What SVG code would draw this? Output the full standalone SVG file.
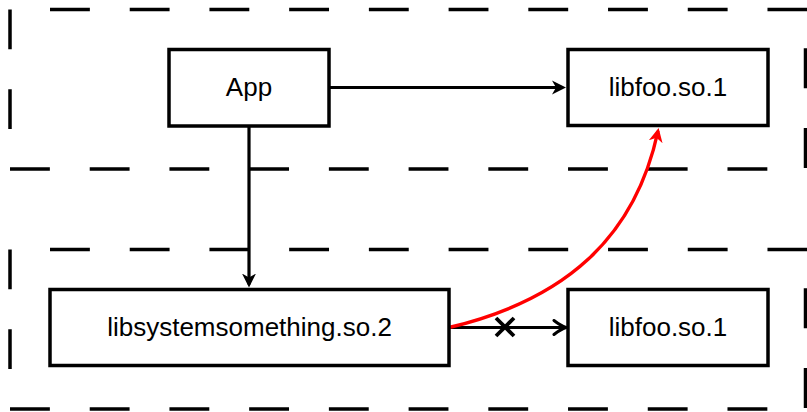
<svg xmlns="http://www.w3.org/2000/svg" width="807" height="412" viewBox="0 0 807 412">
<style>
.dash{stroke:#000;stroke-width:3.5;stroke-dasharray:39.86 39.86;fill:none}
.box{fill:#fff;stroke:#000;stroke-width:3.5}
.lbl{font-family:"Liberation Sans",Arial,sans-serif;font-size:26px;fill:#000;text-anchor:middle}
.edge{stroke:#000;stroke-width:3.2;fill:none}
.red{stroke:#f00;stroke-width:3.4;fill:none}
</style>
<defs>
<marker id="stealth" markerUnits="userSpaceOnUse" viewBox="-14 -8 16 16" markerWidth="16" markerHeight="16" refX="-3" refY="0" orient="auto">
<path d="M0,0 L-14,-7 L-10,0 L-14,7 Z" fill="#000"/>
</marker>
<marker id="stealthRed" markerUnits="userSpaceOnUse" viewBox="-14 -8 16 16" markerWidth="16" markerHeight="16" refX="-3" refY="0" orient="auto">
<path d="M0,0 L-14,-7 L-10,0 L-14,7 Z" fill="#f00"/>
</marker>
<marker id="open" markerUnits="userSpaceOnUse" viewBox="-16 -9 18 18" markerWidth="18" markerHeight="18" refX="0" refY="0" orient="auto">
<path d="M-12,-7 Q-5,-1.5 0,0 Q-5,1.5 -12,7" fill="none" stroke="#000" stroke-width="3" stroke-linecap="round"/>
</marker>
</defs>

<g id="regions">
<g id="region-top">
<line class="dash" x1="50" y1="9.5" x2="807" y2="9.5"/>
<line class="dash" x1="10" y1="9.5" x2="10" y2="169"/>
<line class="dash" x1="10" y1="169" x2="807" y2="169"/>
<line class="dash" x1="805.5" y1="48.3" x2="805.5" y2="169"/>
</g>
<g id="region-bottom">
<line class="dash" x1="50" y1="249.5" x2="807" y2="249.5"/>
<line class="dash" x1="10" y1="249.5" x2="10" y2="409"/>
<line class="dash" x1="10" y1="409" x2="807" y2="409"/>
<line class="dash" x1="805.5" y1="288.3" x2="805.5" y2="409"/>
</g>
</g>

<g id="connectors">
<line class="edge" x1="329" y1="87.5" x2="563" y2="87.5" marker-end="url(#stealth)"/>
<line class="edge" x1="249" y1="126" x2="249" y2="284.5" marker-end="url(#stealth)"/>
<line class="edge" x1="449" y1="327.5" x2="566" y2="327.5" marker-end="url(#open)"/>
<g id="cross" stroke="#000" stroke-width="3.8">
<line x1="496" y1="318" x2="514" y2="336"/>
<line x1="514" y1="318" x2="496" y2="336"/>
</g>
<path class="red" d="M449,327.5 C565,300 635,238 658,131" marker-end="url(#stealthRed)"/>
</g>

<g id="node-app">
<rect class="box" x="169" y="49.5" width="160" height="76.5"/>
<text class="lbl" x="249" y="95.5">App</text>
</g>
<g id="node-libfoo-top">
<rect class="box" x="568" y="49.5" width="200" height="76"/>
<text class="lbl" x="668" y="95.5">libfoo.so.1</text>
</g>
<g id="node-libsys">
<rect class="box" x="50" y="289.5" width="399" height="76"/>
<text class="lbl" x="249.5" y="335.5">libsystemsomething.so.2</text>
</g>
<g id="node-libfoo-bottom">
<rect class="box" x="568" y="289.5" width="200" height="76"/>
<text class="lbl" x="668" y="335.5">libfoo.so.1</text>
</g>
</svg>
